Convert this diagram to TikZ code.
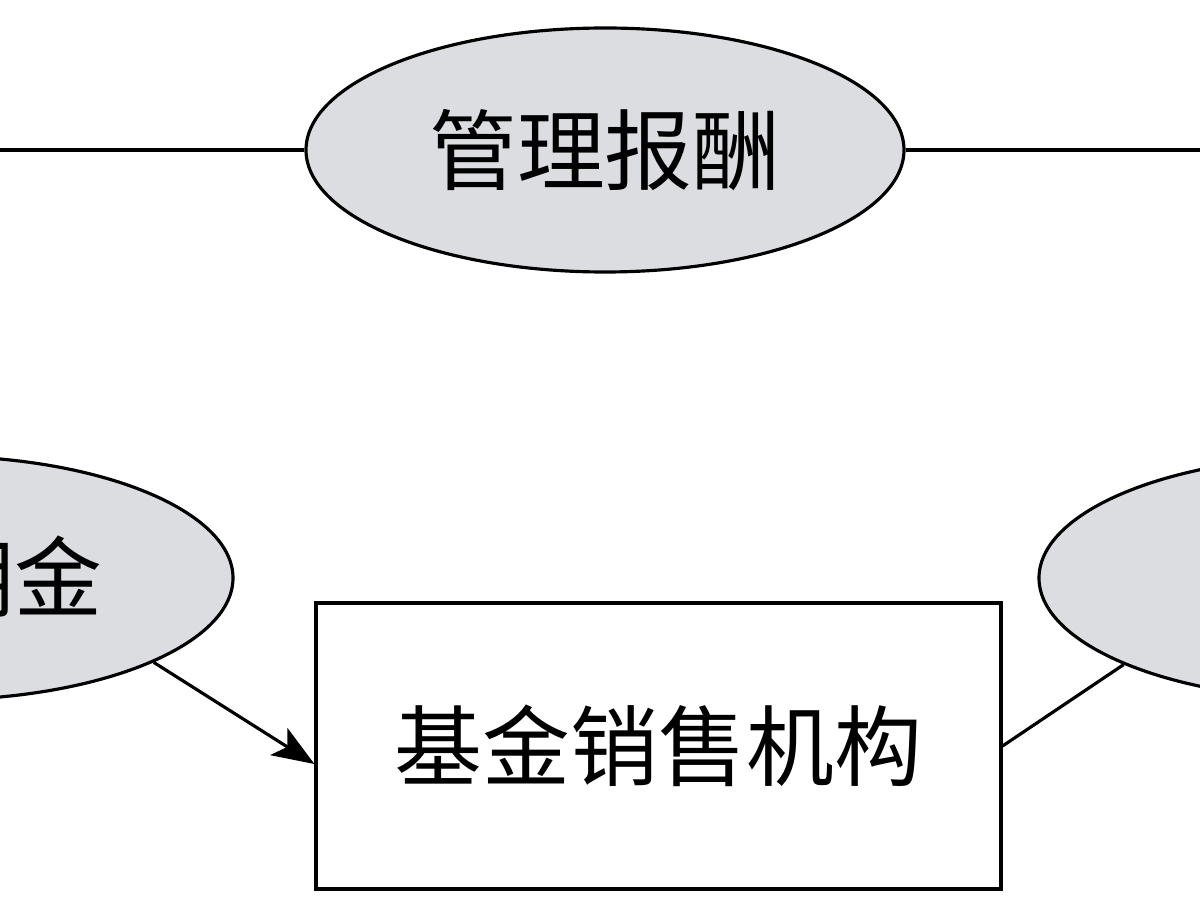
\documentclass[tikz,border=0pt]{standalone}
\usepackage{fontspec}
\usepackage{tikz}
\usepackage{xcolor}
\usetikzlibrary{shapes.geometric,arrows.meta}
\newfontfamily\cjk{Noto Sans CJK SC}
\definecolor{feegray}{RGB}{220,221,224}
\tikzset{
  feebox/.style={ellipse, draw=black, line width=0.9pt, fill=feegray, minimum width=5.98cm, minimum height=2.44cm, inner sep=0pt},
  orgbox/.style={rectangle, draw=black, line width=0.9pt, minimum width=6.85cm, minimum height=2.86cm, inner sep=0pt},
  feetext/.style={font=\cjk\fontsize{25}{30}\selectfont},
  link/.style={line width=0.9pt}
}
\begin{document}
\begin{tikzpicture}
\useasboundingbox (0,0) rectangle (12,9);
\clip (0,0) rectangle (12,9);
\fill[white] (0,0) rectangle (12,9);

\node[feebox, feetext] (mgmt) at (6.05,7.50) {管理报酬};
\node[feebox] (lcomm) at (-0.66,3.22) {};
\node[feetext, anchor=east, inner sep=0pt] (ltext) at (1.03,3.23) {佣金};
\node[feebox] (rcomm) at (13.38,3.22) {};
\node[orgbox, feetext] (sales) at (6.585,1.54) {基金销售机构};

\coordinate (lend) at (0,7.50);
\coordinate (rend) at (12,7.50);
\draw[link] (lend) -- (mgmt.west);
\draw[link] (mgmt.east) -- (rend);
\draw[link, -{Stealth[length=4.2mm,width=3.2mm,inset=1mm]}] (lcomm.-21.7) -- (sales.183.7);
\draw[link] (sales.east) -- (rcomm.202);
\end{tikzpicture}
\end{document}
